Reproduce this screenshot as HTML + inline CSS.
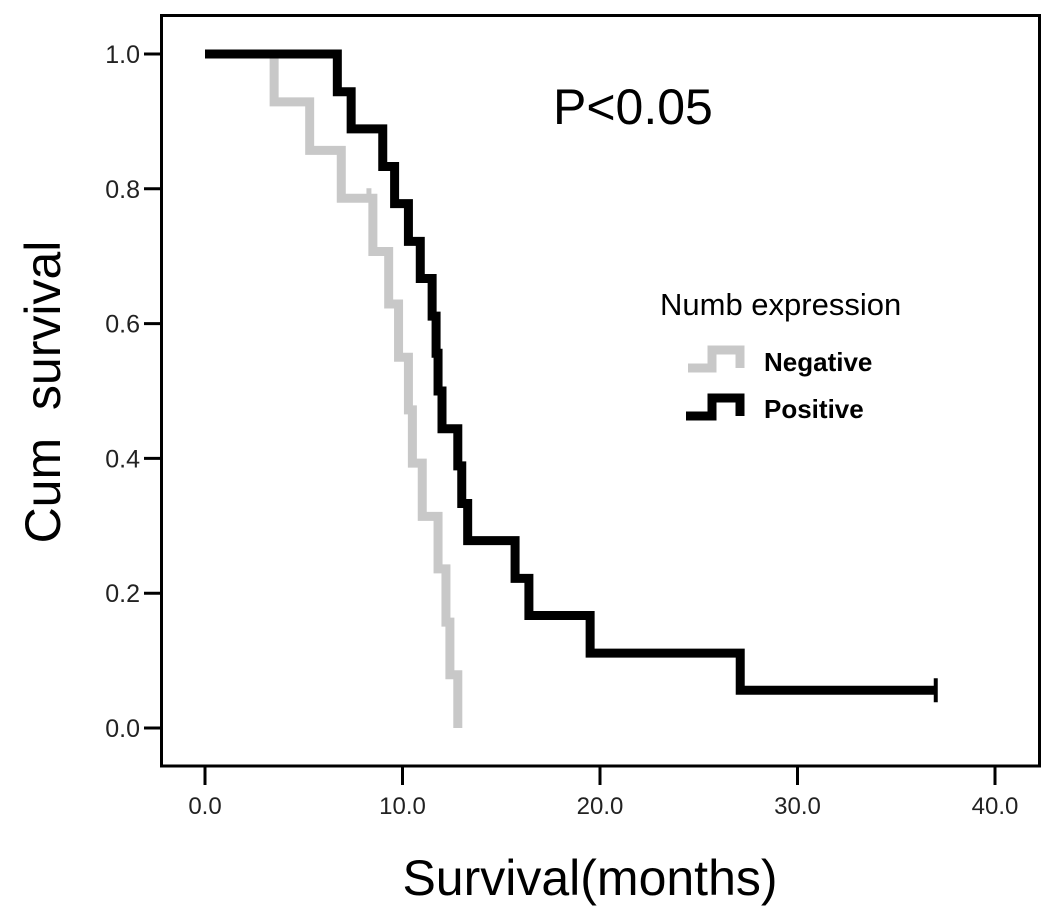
<!DOCTYPE html>
<html><head><meta charset="utf-8"><style>
body{margin:0;background:#fff;}
svg{display:block;font-family:"Liberation Sans",sans-serif;}
</style></head><body>
<svg width="1063" height="919" viewBox="0 0 1063 919">
<rect x="0" y="0" width="1063" height="919" fill="#fff"/>
<rect x="161.5" y="15.5" width="878" height="750.5" fill="none" stroke="#000" stroke-width="3"/>
<g id="axes"></g>
<g id="series"></g>
<text x="553" y="124" font-size="50">P&lt;0.05</text>
<text x="660" y="315" font-size="31">Numb expression</text>
<g>
<path d="M688,368 H712 V350 H740 V368" fill="none" stroke="#c8c8c8" stroke-width="9"/>
<text x="764" y="371" font-size="26" font-weight="bold">Negative</text>
</g>
<g>
<path d="M686,416 H712 V398 H740 V416" fill="none" stroke="#000" stroke-width="9"/>
<text x="764" y="418" font-size="26" font-weight="bold">Positive</text>
</g>
<text x="590" y="895" font-size="50" text-anchor="middle">Survival(months)</text>
<text transform="translate(60,392) rotate(-90)" font-size="50" text-anchor="middle">Cum&#160;&#160;survival</text>
</svg>
<script>
const xTicks=[0,10,20,30,40];
const xTickLabels=["0.0","10.0","20.0","30.0","40.0"];
const yTicks=[0,0.2,0.4,0.6,0.8,1.0];
const yTickLabels=["0.0","0.2","0.4","0.6","0.8","1.0"];
const negTimes=[3.5,5.3,6.9,8.5,9.3,9.8,10.3,10.5,11.0,11.8,12.2,12.4,12.8];
const negSurv=[0.929,0.857,0.786,0.707,0.629,0.550,0.472,0.393,0.314,0.236,0.157,0.079,0];
const negCensor=[[8.3,0.786]];
const posTimes=[6.7,7.4,9.0,9.6,10.3,10.9,11.5,11.7,11.8,12.0,12.8,13.0,13.3,15.7,16.4,19.5,27.1];
const posSurv=[0.944,0.889,0.833,0.778,0.722,0.667,0.611,0.556,0.5,0.444,0.389,0.333,0.278,0.222,0.167,0.111,0.056];
const posEnd=37.0;
const posCensor=[[37.0,0.056]];
const NS="http://www.w3.org/2000/svg";
const X=v=>205+v*19.75, Y=v=>728-v*674;
const ax=document.getElementById('axes'), sr=document.getElementById('series');
function mk(tag,attrs,parent){const e=document.createElementNS(NS,tag);for(const k in attrs)e.setAttribute(k,attrs[k]);parent.appendChild(e);return e;}
xTicks.forEach((t,i)=>{
  const l=mk('line',{x1:X(t),x2:X(t),y1:766,y2:785,stroke:'#000','stroke-width':3},ax);
  
  
  const tx=mk('text',{x:X(t),y:814,'font-size':24,'text-anchor':'middle',fill:'#222'},ax);
  tx.textContent=xTickLabels[i];
  
  
});
yTicks.forEach((t,i)=>{
  const l=mk('line',{x1:144,x2:161,y1:Y(t),y2:Y(t),stroke:'#000','stroke-width':3},ax);
  
  
  const tx=mk('text',{x:140,y:Y(t)+9,'font-size':25,'text-anchor':'end',fill:'#222'},ax);
  tx.textContent=yTickLabels[i];
  
  
});
function stepPath(times,surv,end){
  let d='M'+X(0)+','+Y(1);
  times.forEach((t,i)=>{d+=' H'+X(t)+' V'+Y(surv[i]);});
  if(end!==undefined)d+=' H'+X(end);
  return d;
}
const pn=mk('path',{d:stepPath(negTimes,negSurv),fill:'none',stroke:'#c8c8c8','stroke-width':9},sr);


negCensor.forEach(c=>{
  const m=mk('line',{x1:X(c[0]),x2:X(c[0]),y1:Y(c[1])-10,y2:Y(c[1])+4,stroke:'#c8c8c8','stroke-width':5},sr);
  
  
});
const pp=mk('path',{d:stepPath(posTimes,posSurv,posEnd),fill:'none',stroke:'#000','stroke-width':9},sr);


posCensor.forEach(c=>{
  const m=mk('line',{x1:X(c[0]),x2:X(c[0]),y1:Y(c[1])-12,y2:Y(c[1])+12,stroke:'#000','stroke-width':4},sr);
  
  
});
</script>
</body></html>
